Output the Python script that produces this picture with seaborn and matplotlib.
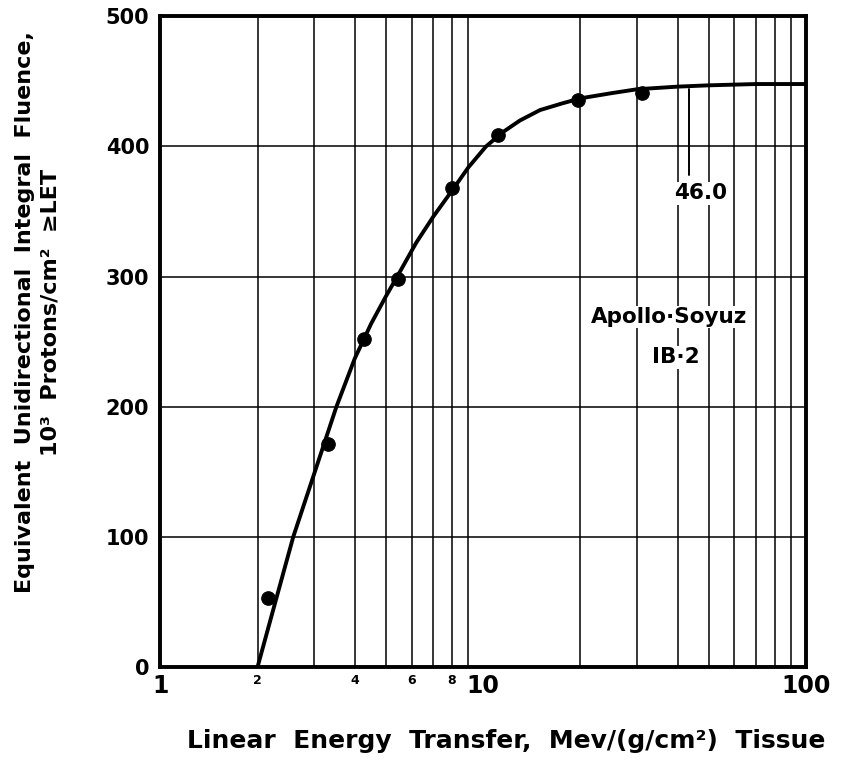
import matplotlib
matplotlib.use("Agg")
import matplotlib.pyplot as plt
import seaborn as sns
import pandas as pd

# measured points (LET, fluence)
let_pts = [2.15, 3.3, 4.26, 5.43, 7.99, 11.1, 19.6, 31.0]
flu_pts = [53, 171, 252, 298, 368, 409, 436, 441]

# fitted curve
let_curve = [2.0, 2.3, 2.58, 3.0, 3.51, 4.0, 4.5, 5.0, 5.5, 6.2, 7.0, 8.0, 9.0, 10.2, 11.5, 13.0, 15.0, 17.5, 20.0, 25.0, 30.0, 40.0, 50.0, 70.0, 100.0]
flu_curve = [0, 55, 100, 149, 200, 237, 264, 285, 303, 326, 346, 366, 384, 400, 411, 420, 428, 433, 437, 441, 444, 446, 447, 448, 448]

x_major = [1, 10, 100]
x_minor = [2, 4, 6, 8]
y_ticks = [0, 100, 200, 300, 400, 500]

sns.set_theme(style="white")
plt.rcParams['font.family'] = ['DejaVu Sans']
plt.rcParams['font.weight'] = 'bold'
plt.rcParams['text.color'] = 'black'
plt.rcParams['axes.labelcolor'] = 'black'
plt.rcParams['xtick.color'] = 'black'
plt.rcParams['ytick.color'] = 'black'

fig = plt.figure(figsize=(8.44, 7.61), dpi=100)
ax = fig.add_axes([0.19, 0.1235, 0.765, 0.855])

pts = pd.DataFrame({"let": let_pts, "flu": flu_pts})
crv = pd.DataFrame({"let": let_curve, "flu": flu_curve})

sns.lineplot(data=crv, x="let", y="flu", ax=ax, color="black", linewidth=2.8, sort=False, zorder=3)
sns.scatterplot(data=pts, x="let", y="flu", ax=ax, color="black", s=95, edgecolor="black", zorder=4)

ax.set_xscale("log")
ax.set_xlim(1, 100)
ax.set_ylim(0, 500)

# grid
for v in list(range(2, 10)) + list(range(20, 100, 10)):
    ax.axvline(v, color="black", linewidth=1.1, zorder=1)
for h in [100, 200, 300, 400]:
    ax.axhline(h, color="black", linewidth=1.1, zorder=1)

ax.set_xticks(x_major)
ax.set_xticklabels(["1", "10", "100"], fontsize=17, fontweight="bold")
ax.set_xticks(x_minor, minor=True)
ax.set_xticklabels([str(v) for v in x_minor], minor=True, fontsize=9, fontweight="bold")
ax.tick_params(axis="x", which="both", length=0, pad=5)
ax.set_yticks(y_ticks)
ax.set_yticklabels([str(v) for v in y_ticks], fontsize=15, fontweight="bold")
ax.tick_params(axis="y", length=0, pad=8)

for s in ax.spines.values():
    s.set_visible(True)
    s.set_color("black")
    s.set_linewidth(2.8)

ax.set_xlabel("Linear  Energy  Transfer,  Mev/(g/cm²)  Tissue", fontsize=18, fontweight="bold")
ax.xaxis.set_label_coords(0.535, -0.095)
ax.set_ylabel("Equivalent  Unidirectional  Integral  Fluence,\n10³  Protons/cm²  ≥LET", fontsize=16,
              fontweight="bold", linespacing=1.35)
ax.yaxis.set_label_coords(-0.155, 0.545)

# annotation
ax.plot([43.4, 43.4], [444, 378], color="black", linewidth=1.4, zorder=3)
ax.text(47.3, 364, "46.0", fontsize=15.5, fontweight="bold", ha="center", va="center",
        bbox=dict(facecolor="white", edgecolor="none", pad=1), zorder=5)
ax.text(37.6, 269, "Apollo·Soyuz", fontsize=15.5, fontweight="bold", ha="center", va="center",
        bbox=dict(facecolor="white", edgecolor="none", pad=1), zorder=5)
ax.text(39.5, 238, "IB·2", fontsize=15.5, fontweight="bold", ha="center", va="center",
        bbox=dict(facecolor="white", edgecolor="none", pad=1), zorder=5)

fig.savefig("out.png", dpi=100)
